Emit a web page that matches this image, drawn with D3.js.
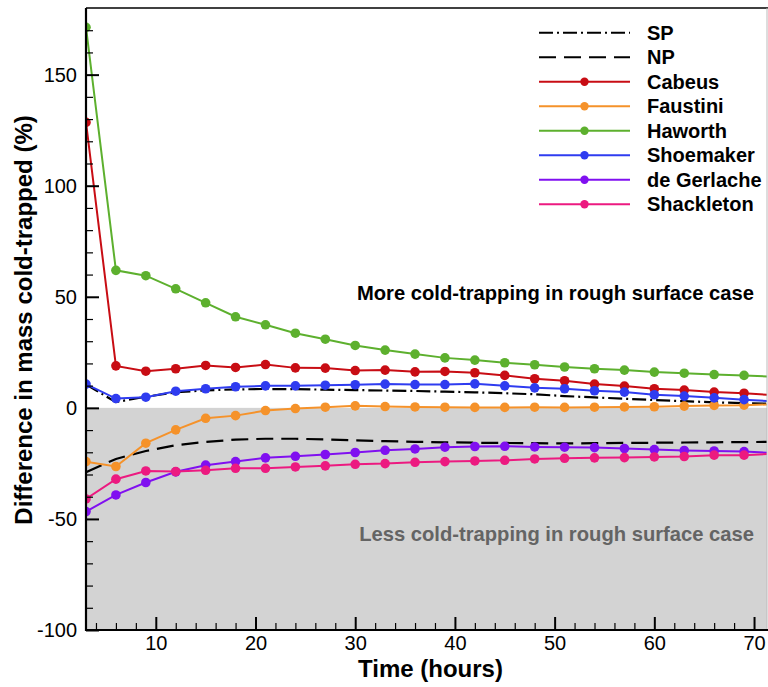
<!DOCTYPE html>
<html>
<head>
<meta charset="utf-8">
<script src="https://cdn.jsdelivr.net/npm/d3@7"></script>
<style>
  html, body { margin: 0; padding: 0; background: #fff; }
  svg { display: block; font-family: "Liberation Sans", Arial, Helvetica, sans-serif; }
</style>
</head>
<body>
<svg id="chart" width="768" height="687"></svg>
<script>
// ---- data ----
const hours = [3, 6, 9, 12, 15, 18, 21, 24, 27, 30, 33, 36, 39, 42, 45, 48, 51, 54, 57, 60, 63, 66, 69, 72];
const SP = [10.5, 2.6, 5.0, 7.0, 7.9, 8.3, 8.5, 8.4, 8.2, 8.0, 7.8, 7.6, 7.3, 7.0, 6.6, 6.1, 5.3, 4.7, 4.1, 3.5, 3.0, 2.5, 2.1, 1.8];
const NP = [-29.0, -23.0, -19.4, -16.8, -15.3, -14.3, -13.9, -13.9, -14.2, -14.6, -15.0, -15.3, -15.5, -15.7, -15.8, -15.9, -16.0, -15.9, -15.8, -15.7, -15.6, -15.5, -15.4, -15.3];
const Cabeus = [128.5, 18.9, 16.5, 17.6, 19.1, 18.2, 19.5, 18.0, 17.9, 16.8, 17.0, 16.2, 16.4, 15.8, 14.6, 13.1, 12.2, 10.7, 9.8, 8.6, 8.0, 7.1, 6.6, 5.7];
const Faustini = [-24.2, -26.4, -15.9, -9.9, -4.7, -3.5, -1.2, -0.3, 0.3, 0.9, 0.6, 0.4, 0.3, 0.2, 0.2, 0.3, 0.2, 0.3, 0.4, 0.5, 0.8, 1.1, 1.2, 1.6];
const Haworth = [171.3, 61.9, 59.5, 53.6, 47.3, 41.0, 37.4, 33.6, 30.9, 28.1, 26.0, 24.2, 22.5, 21.5, 20.3, 19.4, 18.4, 17.6, 17.0, 16.1, 15.6, 15.0, 14.6, 14.0];
const Shoemaker = [10.7, 4.2, 4.8, 7.5, 8.6, 9.5, 9.9, 9.9, 10.2, 10.4, 10.7, 10.5, 10.5, 10.8, 9.9, 9.0, 8.6, 7.7, 7.1, 5.9, 5.3, 4.5, 3.7, 2.9];
const deGerlache = [-46.7, -39.2, -33.6, -28.8, -25.8, -24.2, -22.5, -21.8, -21.0, -20.1, -19.1, -18.5, -17.7, -17.4, -17.3, -17.6, -17.7, -17.9, -18.3, -18.8, -19.2, -19.4, -19.7, -20.3];
const Shackleton = [-41.0, -32.1, -28.4, -28.7, -28.1, -27.2, -27.2, -26.6, -26.1, -25.4, -25.1, -24.5, -24.2, -23.9, -23.6, -23.0, -22.7, -22.5, -22.4, -22.1, -21.9, -21.3, -21.3, -20.6];

const seriesNames = ["SP", "NP", "Cabeus", "Faustini", "Haworth", "Shoemaker", "de Gerlache", "Shackleton"];
const seriesValues = [SP, NP, Cabeus, Faustini, Haworth, Shoemaker, deGerlache, Shackleton];
const seriesColors = ["#000000", "#000000", "#c80d14", "#f5922a", "#5db02e", "#2f3cf0", "#8010f0", "#ec1a80"];
const seriesDash = ["14,4,2,4", "17,8", null, null, null, null, null, null];
const seriesMarkers = [false, false, true, true, true, true, true, true];

const yMajorTicks = [-100, -50, 0, 50, 100, 150];
const yMinorTicks = [-90, -80, -70, -60, -40, -30, -20, -10, 10, 20, 30, 40, 60, 70, 80, 90, 110, 120, 130, 140, 160, 170];
const xMajorTicks = [10, 20, 30, 40, 50, 60, 70];
const xMinorTicks = [4, 6, 8, 12, 14, 16, 18, 22, 24, 26, 28, 32, 34, 36, 38, 42, 44, 46, 48, 52, 54, 56, 58, 62, 64, 66, 68];

const xLabel = "Time (hours)";
const yLabel = "Difference in mass cold-trapped (%)";
const moreText = "More cold-trapping in rough surface case";
const lessText = "Less cold-trapping in rough surface case";

// ---- layout ----
const L = 86, R = 767, T = 8, B = 630;
const svg = d3.select("#chart");
const x = d3.scaleLinear().domain([3, 71.3]).range([L, R]);
const y = d3.scaleLinear().domain([-100, 180]).range([B, T]);
const fmt = d => String(d);

svg.append("defs").append("clipPath").attr("id", "clip")
  .append("rect").attr("x", L).attr("y", T).attr("width", R - L).attr("height", B - T);

// gray negative region
svg.append("rect")
  .attr("x", L).attr("y", y(0))
  .attr("width", R - L).attr("height", y(-100) - y(0))
  .attr("fill", "#d3d3d3");

// annotations
svg.append("text").attr("x", 754).attr("y", 300).attr("text-anchor", "end")
  .attr("font-size", 20.2).attr("font-weight", "bold").attr("fill", "#000").text(moreText);
svg.append("text").attr("x", 754).attr("y", 541).attr("text-anchor", "end")
  .attr("font-size", 20.2).attr("font-weight", "bold").attr("fill", "#646464").text(lessText);

// series
const g = svg.append("g").attr("clip-path", "url(#clip)");
const line = d3.line().x(d => x(d[0])).y(d => y(d[1]));
seriesValues.forEach((vals, i) => {
  const pts = hours.map((h, k) => [h, vals[k]]);
  g.append("path").datum(pts)
    .attr("d", line)
    .attr("fill", "none")
    .attr("stroke", seriesColors[i])
    .attr("stroke-width", seriesMarkers[i] ? 2 : 2.2)
    .attr("stroke-dasharray", seriesDash[i]);
  if (seriesMarkers[i]) {
    g.selectAll(null).data(pts).enter().append("circle")
      .attr("cx", d => x(d[0])).attr("cy", d => y(d[1]))
      .attr("r", 4.8).attr("fill", seriesColors[i]);
  }
});

// frame
svg.append("line").attr("x1", L).attr("x2", R + 1).attr("y1", T).attr("y2", T)
  .attr("stroke", "#000").attr("stroke-width", 1.5);
svg.append("line").attr("x1", R).attr("x2", R).attr("y1", T).attr("y2", B)
  .attr("stroke", "#bbb").attr("stroke-width", 1);

// axes
function styleAxis(sel) {
  sel.select(".domain").remove();
  sel.selectAll("line").attr("stroke", "#000");
}
const yAxisMajor = svg.append("g").attr("transform", `translate(${L},0)`)
  .call(d3.axisLeft(y).tickValues(yMajorTicks).tickSize(-13).tickPadding(9).tickFormat(fmt));
styleAxis(yAxisMajor);
yAxisMajor.selectAll("line").attr("stroke-width", 2);
yAxisMajor.selectAll("text").attr("font-size", 20).attr("fill", "#000").attr("font-family", "Liberation Sans, Arial, sans-serif");

const yAxisMinor = svg.append("g").attr("transform", `translate(${L},0)`)
  .call(d3.axisLeft(y).tickValues(yMinorTicks).tickSize(-7).tickFormat(""));
styleAxis(yAxisMinor);
yAxisMinor.selectAll("line").attr("stroke-width", 1.2);

const xAxisMajor = svg.append("g").attr("transform", `translate(0,${B})`)
  .call(d3.axisBottom(x).tickValues(xMajorTicks).tickSize(-13).tickPadding(6).tickFormat(fmt));
styleAxis(xAxisMajor);
xAxisMajor.selectAll("line").attr("stroke-width", 2);
xAxisMajor.selectAll("text").attr("font-size", 20).attr("fill", "#000").attr("font-family", "Liberation Sans, Arial, sans-serif");

const xAxisMinor = svg.append("g").attr("transform", `translate(0,${B})`)
  .call(d3.axisBottom(x).tickValues(xMinorTicks).tickSize(-7).tickFormat(""));
styleAxis(xAxisMinor);
xAxisMinor.selectAll("line").attr("stroke-width", 1.2);

// axis lines
svg.append("line").attr("x1", L).attr("x2", L).attr("y1", T).attr("y2", B + 1)
  .attr("stroke", "#000").attr("stroke-width", 2.2);
svg.append("line").attr("x1", L - 1).attr("x2", R + 1).attr("y1", B).attr("y2", B)
  .attr("stroke", "#000").attr("stroke-width", 2.2);

// axis titles
svg.append("text").attr("x", (L + R) / 2 + 4).attr("y", 677).attr("text-anchor", "middle")
  .attr("font-size", 24).attr("font-weight", "bold").text(xLabel);
svg.append("text").attr("transform", `translate(32,${(T + B) / 2 + 1}) rotate(-90)`)
  .attr("text-anchor", "middle").attr("font-size", 24).attr("font-weight", "bold").text(yLabel);

// legend
const legY0 = 32.7, legStep = 24.5, legX1 = 539, legX2 = 630, legTx = 647;
const leg = svg.append("g");
seriesNames.forEach((name, i) => {
  const yy = legY0 + i * legStep;
  leg.append("line").attr("x1", legX1).attr("x2", legX2).attr("y1", yy).attr("y2", yy)
    .attr("stroke", seriesColors[i]).attr("stroke-width", 2)
    .attr("stroke-dasharray", seriesDash[i]);
  if (seriesMarkers[i]) {
    leg.append("circle").attr("cx", (legX1 + legX2) / 2).attr("cy", yy).attr("r", 4.2).attr("fill", seriesColors[i]);
  }
  leg.append("text").attr("x", legTx).attr("y", yy).attr("dy", "0.36em")
    .attr("font-size", 20).attr("font-weight", "bold").attr("fill", "#000").text(name);
});
</script>
</body>
</html>
